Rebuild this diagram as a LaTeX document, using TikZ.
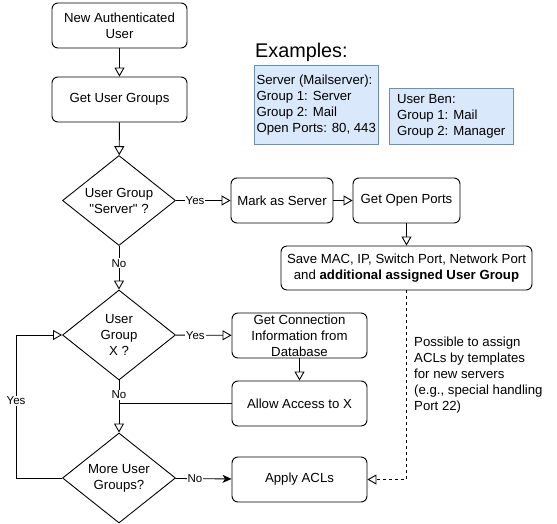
\documentclass[tikz,border=0pt]{standalone}
\usepackage{fontspec}
\setmainfont{Liberation Sans}[Ligatures=TeXOff]
\usetikzlibrary{arrows.meta,positioning,shapes.geometric,calc}
\definecolor{exfill}{HTML}{DAE8FC}
\definecolor{exline}{HTML}{6C8EBF}

\begin{document}
\begin{tikzpicture}[
  x=1pt,y=-1pt,
  stepbox/.style={draw, rounded corners=6pt, align=center, minimum width=135pt, minimum height=45pt, inner xsep=2pt, inner ysep=0pt, line width=0.9pt, font=\fontsize{13.2}{16}\selectfont},
  decision/.style={draw, diamond, aspect=1.256, align=center, minimum width=113pt, minimum height=90pt, inner sep=0pt, line width=0.9pt, font=\fontsize{13.2}{16}\selectfont},
  example/.style={draw=exline, fill=exfill, align=left, anchor=north west, inner sep=0pt, font=\fontsize{13.2}{16}\selectfont},
  lbl/.style={fill=white, inner sep=1pt, font=\fontsize{11.5}{13}\selectfont},
  arr/.style={-{Triangle[open,length=9pt,width=10pt]}, line width=0.9pt},
  arrfill/.style={-{Stealth[length=9pt,width=8pt,inset=2.5pt]}, line width=0.9pt},
  arrdash/.style={-{Triangle[open,length=9pt,width=10pt]}, line width=0.9pt, dashed}
]
\useasboundingbox (0,0) rectangle (557,524);
% main flow
\node[stepbox] (start) at (119.5,25.5) {New Authenticated\\User};
\node[stepbox] (groups) at (119.5,99.5) {Get User Groups};
\node[decision] (isserver) at (119,200.5) {User Group\\"Server" ?};
\node[stepbox, minimum width=102pt] (markserver) at (282,200.5) {Mark as Server};
\node[stepbox, minimum width=107pt] (openports) at (406.5,200.5) {Get Open Ports};
\node[stepbox, minimum width=251pt, minimum height=44pt] (savedata) at (406.5,268) {Save MAC, IP, Switch Port, Network Port\\and \textbf{additional assigned User Group}};
\node[decision] (isgroupx) at (119,335) {User\\Group\\X ?};
\node[stepbox] (conninfo) at (299.5,335.5) {Get Connection\\Information from\\Database};
\node[stepbox] (allowx) at (299.5,403.5) {Allow Access to X};
\node[decision] (moregroups) at (119,478) {More User\\Groups?};
\node[stepbox] (applyacl) at (299.5,479.5) {Apply ACLs};
% examples
\node[anchor=west, inner sep=0pt, font=\fontsize{19.8}{22}\selectfont] (exhead) at (255,52) {Examples:};
\node[example, minimum width=124pt, minimum height=79pt] (exserver) at (254,65) {Server (Mailserver):\\Group 1: Server\\Group 2: Mail\\Open Ports: 80, 443};
\node[example, minimum width=124pt, minimum height=56pt] (exuser) at (389,88) {User Ben:\\Group 1: Mail\\Group 2: Manager};
\node[anchor=north west, align=left, inner sep=0pt, font=\fontsize{13.2}{16}\selectfont] (acltext) at (414,337) {Possible to assign\\ACLs by templates\\for new servers\\(e.g., special handling\\Port 22)};
% connectors
\draw[arr] (start) -- (groups);
\draw[arr] (groups) -- (isserver);
\draw[arr] (isserver) -- node[lbl, pos=0.35] {Yes} (markserver);
\draw[arr] (markserver) -- (openports);
\draw[arr] (openports) -- (savedata);
\draw[arr] (isserver) -- node[lbl, pos=0.4] {No} (isgroupx);
\draw[arr] (isgroupx) -- node[lbl, pos=0.35] {Yes} (conninfo);
\draw[arr] (conninfo) -- (allowx);
\draw[arr] (isgroupx) -- node[lbl, pos=0.28] {No} (moregroups);
\draw[line width=0.9pt] (allowx.west) -- (allowx.west -| moregroups.north);
\draw[arrfill] (moregroups) -- node[lbl, pos=0.35] {No} (applyacl);
\draw[arr] (moregroups.west) -- ++(-46,0) |- node[lbl, pos=0.27] {Yes} (isgroupx.west);
\draw[arrdash] (savedata.south) |- (applyacl.east);
\end{tikzpicture}
\end{document}
